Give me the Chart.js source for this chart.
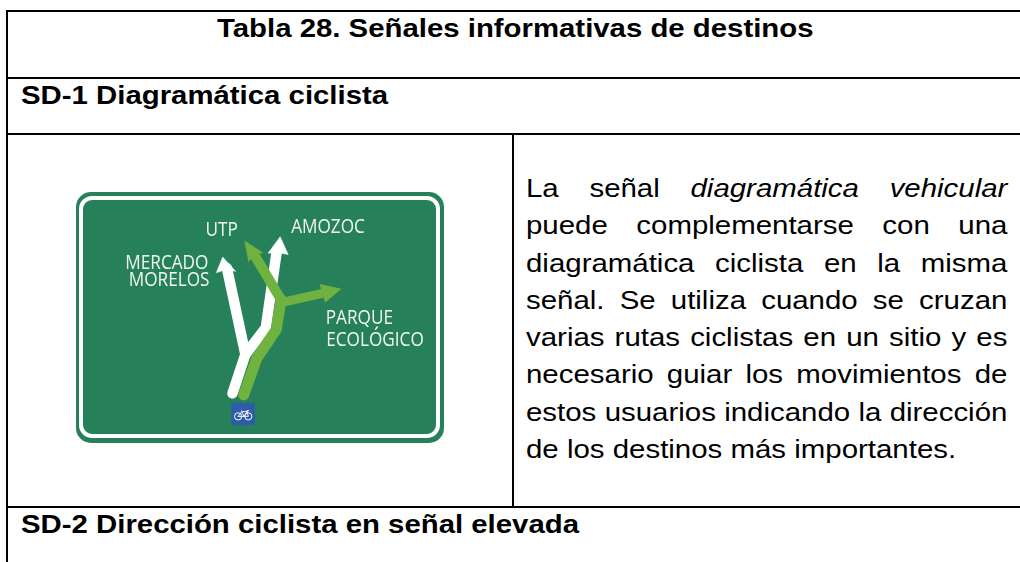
<!DOCTYPE html>
<html lang="es"><head><meta charset="utf-8">
<script src="https://cdn.jsdelivr.net/npm/chart.js@4"></script>
<style>
html,body{margin:0;padding:0;background:#fff;width:1020px;height:562px;overflow:hidden}
body{position:relative;font-family:"Liberation Sans",Arial,sans-serif;color:#000}
.r{position:absolute;background:#000}
.t{position:absolute;white-space:nowrap;font-weight:bold;font-size:26px;line-height:28px;transform:scaleX(1.129);transform-origin:0 0}
#body{position:absolute;left:526px;top:170px;width:409px;font-size:25px;line-height:37.3px;margin:0;transform:scaleX(1.177);transform-origin:0 0}
#body span{display:block;white-space:nowrap;text-align:justify;text-align-last:justify}
#body span.last{text-align-last:left}
#plate{position:absolute;left:76px;top:192px;width:368px;height:251px;border-radius:15px;background:#26805a}
#ring{position:absolute;left:2.5px;top:4px;width:353px;height:234px;border:4.5px solid #fff;border-radius:13px}
#sign{position:absolute;left:76px;top:192px;width:368px;height:251px}
</style></head><body>
<div class="r" style="left:6px;top:9.5px;width:1014px;height:2px"></div>
<div class="r" style="left:6px;top:10px;width:2px;height:552px"></div>
<div class="r" style="left:6px;top:77px;width:1014px;height:2px"></div>
<div class="r" style="left:6px;top:133px;width:1014px;height:2px"></div>
<div class="r" style="left:6px;top:506px;width:1014px;height:2px"></div>
<div class="r" style="left:512px;top:133px;width:2px;height:374px"></div>
<div class="t" style="left:217px;top:14px">Tabla 28. Señales informativas de destinos</div>
<div class="t" style="left:21px;top:81px">SD-1 Diagramática ciclista</div>
<div class="t" style="left:21px;top:510px">SD-2 Dirección ciclista en señal elevada</div>
<p id="body"><span>La señal <i>diagramática vehicular</i></span><span>puede complementarse con una</span><span>diagramática ciclista en la misma</span><span>señal. Se utiliza cuando se cruzan</span><span>varias rutas ciclistas en un sitio y es</span><span>necesario guiar los movimientos de</span><span>estos usuarios indicando la dirección</span><span class="last">de los destinos más importantes.</span></p>
<div id="plate"><div id="ring"></div></div>
<div id="sign"><canvas id="c" width="368" height="251"></canvas></div>
<script>
// Diagram paths, in picture coordinates
const whiteStemX = [231.7, 245, 266, 277];
const whiteStemY = [396.5, 356, 328, 250];
const whiteBranchX = [245, 226];
const whiteBranchY = [356, 266];
const whiteHeadLeftX = [221.7, 235, 226, 215, 221.7];
const whiteHeadLeftY = [254.5, 269.5, 267, 271, 254.5];
const whiteHeadRightX = [280.7, 289, 279, 268.3, 280.7];
const whiteHeadRightY = [233.3, 252, 250, 250.5, 233.3];
const greenStemX = [243.3, 256.7, 276.7, 281.7];
const greenStemY = [398, 360, 330, 299];
const greenLeftX = [281.7, 254];
const greenLeftY = [299, 252];
const greenRightX = [281.7, 325];
const greenRightY = [302, 292];
const greenHeadLeftX = [244.3, 263, 255, 248.3, 244.3];
const greenHeadLeftY = [237.7, 250, 252, 259.3, 237.7];
const greenHeadRightX = [343.3, 327, 324, 321.7, 343.3];
const greenHeadRightY = [287.7, 301.5, 292, 283, 287.7];
const panelX = [231, 254, 254, 231, 231];
const panelY = [406.7, 406.7, 429.3, 429.3, 406.7];
const wheelX = [237.5, 248];
const wheelY = [420.5, 420.5];
const frameX = [237.5, 241.5, 247, 243.5, 237.5];
const frameY = [420.5, 415.5, 415.5, 420.5, 420.5];
const forkX = [241, 243.5, 248, 246.5, 248.5];
const forkY = [414.5, 420.5, 420.5, 414.5, 414.5];
const labelText = ["UTP", "AMOZOC", "MERCADO", "MORELOS", "PARQUE", "ECOLÓGICO"];
const labelX = [204, 292, 121.5, 125, 327.5, 328];
const labelY = [232.7, 230, 267, 285, 324, 346.7];

const pts = (xs, ys) => xs.map((x, i) => ({x, y: ys[i]}));
const stroke = (xs, ys, color, w) => ({data: pts(xs, ys), borderColor: color, borderWidth: w, borderCapStyle: 'round', borderJoinStyle: 'round', pointRadius: 0, fill: false, tension: 0});
const shape = (xs, ys, color) => ({data: pts(xs, ys), borderColor: color, backgroundColor: color, borderWidth: 0.5, pointRadius: 0, fill: 'shape', tension: 0});

const WHITE = '#ffffff', GREEN = '#6fb23f', BLUE = '#2f5ca8';
const labelPlugin = {
  id: 'signLabels',
  afterDatasetsDraw(chart) {
    const {ctx, scales: {x, y}} = chart;
    ctx.fillStyle = '#f2f7f2';
    ctx.font = '20px "Open Sans", sans-serif';
    ctx.textBaseline = 'alphabetic';
    labelText.forEach((t, i) => {
      ctx.save();
      ctx.translate(x.getPixelForValue(labelX[i]), y.getPixelForValue(labelY[i]));
      ctx.scale(0.86, 1);
      ctx.fillText(t, 0, 0);
      ctx.restore();
    });
  }
};
new Chart(document.getElementById('c'), {
  type: 'line',
  plugins: [labelPlugin],
  data: {datasets: [
    {data: pts(wheelX, wheelY), showLine: false, pointRadius: 3.6, pointBorderWidth: 1, pointBorderColor: WHITE, pointBackgroundColor: 'rgba(0,0,0,0)'},
    stroke(frameX, frameY, WHITE, 0.9),
    stroke(forkX, forkY, WHITE, 0.9),
    shape(panelX, panelY, BLUE),
    shape(greenHeadLeftX, greenHeadLeftY, GREEN),
    shape(greenHeadRightX, greenHeadRightY, GREEN),
    stroke(greenLeftX, greenLeftY, GREEN, 10),
    stroke(greenRightX, greenRightY, GREEN, 9),
    stroke(greenStemX, greenStemY, GREEN, 11),
    shape(whiteHeadLeftX, whiteHeadLeftY, WHITE),
    shape(whiteHeadRightX, whiteHeadRightY, WHITE),
    stroke(whiteBranchX, whiteBranchY, WHITE, 10.5),
    stroke(whiteStemX, whiteStemY, WHITE, 10.5)
  ]},
  options: {
    responsive: false, animation: false, events: [],
    layout: {padding: 0},
    plugins: {legend: {display: false}, tooltip: {enabled: false}, title: {display: false}},
    scales: {
      x: {type: 'linear', min: 76, max: 444, display: false},
      y: {type: 'linear', min: 192, max: 443, reverse: true, display: false}
    }
  }
});
</script>
</body></html>
